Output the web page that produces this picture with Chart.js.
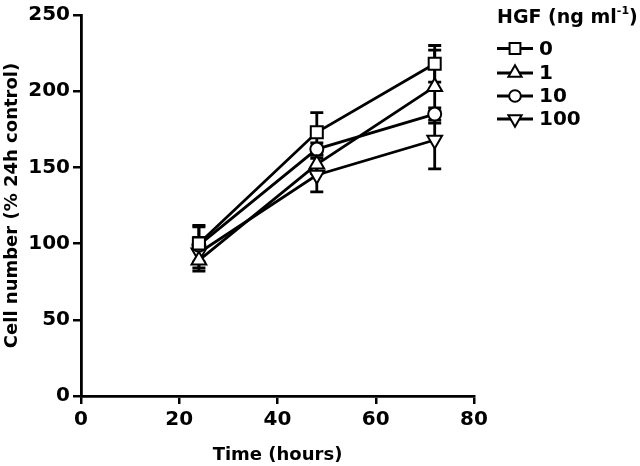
<!DOCTYPE html>
<html>
<head>
<meta charset="utf-8">
<script src="https://cdn.jsdelivr.net/npm/chart.js@4/dist/chart.umd.min.js"></script>
<style>
html,body{margin:0;padding:0;background:#fff;}
#wrap{width:640px;height:466px;}
</style>
</head>
<body>
<div id="wrap"><canvas id="c" width="640" height="466"></canvas></div>
<script>
// ---- data ----
const timeHours = [24, 48, 72];
const seriesNames = ['0', '1', '10', '100'];
const hgf0 = [100, 173, 218];
const hgf0Err = [12, 13, 12];
const hgf1 = [89, 152, 203];
const hgf1Err = [7, 6, 24];
const hgf10 = [99, 162, 185];
const hgf10Err = [12, 4, 4];
const hgf100 = [94, 145, 168];
const hgf100Err = [10, 11, 19];
const xTicks = [0, 20, 40, 60, 80];
const yTicks = [0, 50, 100, 150, 200, 250];

const FONT = "'DejaVu Sans', 'Liberation Sans', sans-serif";

function pts(vals){ return timeHours.map((t,i)=>({x:t, y:vals[i]})); }

const styles = [
  {pointStyle:'rect', radius:8.5, rotation:0},
  {pointStyle:'triangle', radius:8.5, rotation:0},
  {pointStyle:'circle', radius:6.5, rotation:0},
  {pointStyle:'triangle', radius:8.5, rotation:180}
];
const allVals = [hgf0, hgf1, hgf10, hgf100];
const allErr = [hgf0Err, hgf1Err, hgf10Err, hgf100Err];

const datasets = allVals.map((v,i)=>({
  label: seriesNames[i],
  data: pts(v),
  errors: allErr[i],
  showLine: true,
  borderColor: '#000',
  borderWidth: 2.8,
  pointStyle: styles[i].pointStyle,
  pointRadius: styles[i].radius,
  pointRotation: styles[i].rotation,
  pointBackgroundColor: '#fff',
  pointBorderColor: '#000',
  pointBorderWidth: 2,
  fill: false
}));

const errorBars = {
  id: 'errorBars',
  beforeDatasetsDraw(chart){
    const ctx = chart.ctx, xs = chart.scales.x, ys = chart.scales.y;
    ctx.save();
    ctx.strokeStyle = '#000';
    ctx.lineWidth = 2.8;
    chart.data.datasets.forEach(ds=>{
      ds.data.forEach((p,i)=>{
        const e = ds.errors[i];
        const x = xs.getPixelForValue(p.x);
        const yt = ys.getPixelForValue(p.y + e);
        const yb = ys.getPixelForValue(p.y - e);
        ctx.beginPath();
        ctx.moveTo(x, yt); ctx.lineTo(x, yb);
        ctx.moveTo(x-6.5, yt); ctx.lineTo(x+6.5, yt);
        ctx.moveTo(x-6.5, yb); ctx.lineTo(x+6.5, yb);
        ctx.stroke();
      });
    });
    ctx.restore();
  }
};

const customLegend = {
  id: 'customLegend',
  afterDraw(chart){
    const ctx = chart.ctx;
    ctx.save();
    ctx.fillStyle = '#000';
    ctx.textBaseline = 'alphabetic';
    ctx.textAlign = 'left';
    // title with superscript
    let x = 497, y = 23;
    ctx.font = "bold 19px " + FONT;
    const t1 = 'HGF (ng ml';
    ctx.fillText(t1, x, y);
    x += ctx.measureText(t1).width;
    ctx.font = "bold 11px " + FONT;
    ctx.fillText('-1', x, y - 9);
    x += ctx.measureText('-1').width;
    ctx.font = "bold 19px " + FONT;
    ctx.fillText(')', x, y);
    // entries
    const rowY = [48.5, 73, 96, 119];
    chart.data.datasets.forEach((ds,i)=>{
      const cy = rowY[i];
      ctx.strokeStyle = '#000';
      ctx.lineWidth = 2.8;
      ctx.beginPath();
      ctx.moveTo(497, cy); ctx.lineTo(533, cy);
      ctx.stroke();
      ctx.fillStyle = '#fff';
      ctx.lineWidth = 2;
      Chart.helpers.drawPoint(ctx, {pointStyle: ds.pointStyle, radius: ds.pointRadius * 0.9, rotation: ds.pointRotation, borderWidth: 2}, 515, cy);
      ctx.fillStyle = '#000';
      ctx.font = "bold 20px " + FONT;
      ctx.textBaseline = 'middle';
      ctx.fillText(ds.label, 539, cy + 1);
    });
    ctx.restore();
  }
};

new Chart(document.getElementById('c'), {
  type: 'scatter',
  data: { datasets },
  plugins: [errorBars, customLegend],
  options: {
    responsive: false,
    devicePixelRatio: 1,
    animation: false,
    layout: { padding: { left: 0, top: 12, right: 166, bottom: 0 } },
    plugins: { legend: { display: false }, tooltip: { enabled: false } },
    scales: {
      x: {
        type: 'linear', min: 0, max: 80,
        afterBuildTicks(scale){ scale.ticks = xTicks.map(v=>({value:v})); },
        afterFit(scale){ scale.height = 70; },
        border: { color: '#000', width: 2.8 },
        grid: { drawOnChartArea: false, drawTicks: true, tickLength: 8, color: '#000', lineWidth: 2.5 },
        ticks: { color: '#000', padding: 4, font: { family: FONT, size: 20, weight: 'bold' } },
        title: { display: true, text: 'Time (hours)', color: '#000', padding: { top: 0, bottom: 0 }, font: { family: FONT, size: 18, weight: 'bold' } }
      },
      y: {
        type: 'linear', min: 0, max: 250,
        afterBuildTicks(scale){ scale.ticks = yTicks.map(v=>({value:v})); },
        afterFit(scale){ scale.width = 81; },
        border: { color: '#000', width: 2.8 },
        grid: { drawOnChartArea: false, drawTicks: true, tickLength: 8, color: '#000', lineWidth: 2.5 },
        ticks: { color: '#000', padding: 3, font: { family: FONT, size: 20, weight: 'bold' } },
        title: { display: true, text: 'Cell number (% 24h control)', color: '#000', padding: { top: 2, bottom: 0 }, font: { family: FONT, size: 18, weight: 'bold' } }
      }
    }
  }
});
</script>
</body>
</html>
